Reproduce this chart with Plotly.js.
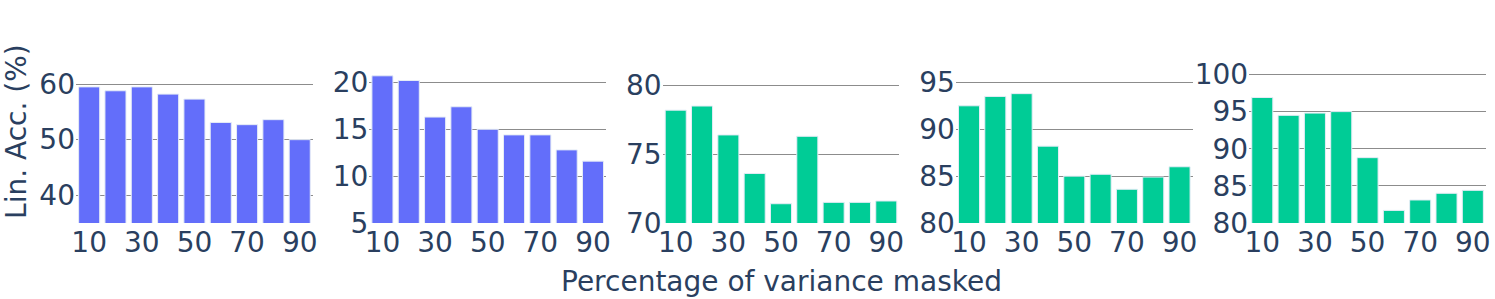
<!DOCTYPE html>
<html>
<head>
<meta charset="utf-8">
<script src="https://cdn.plot.ly/plotly-3.0.1.min.js"></script>
<style>html,body{margin:0;padding:0;background:#fff;}</style>
</head>
<body>
<div id="chart" style="width:1495px;height:299px;"></div>
<script>
// Percentage of variance masked (categories)
const maskPct = [10, 20, 30, 40, 50, 60, 70, 80, 90];
const tickVals = [10, 30, 50, 70, 90];
const tickText = ["10", "30", "50", "70", "90"];

// Linear accuracy (%) per subplot
const acc1 = [59.5, 58.8, 59.5, 58.2, 57.3, 53.1, 52.7, 53.6, 50.0];
const acc2 = [20.7, 20.2, 16.3, 17.4, 15.0, 14.4, 14.4, 12.8, 11.6];
const acc3 = [78.2, 78.5, 76.4, 73.6, 71.4, 76.3, 71.5, 71.5, 71.6];
const acc4 = [92.5, 93.5, 93.8, 88.2, 85.0, 85.2, 83.6, 84.9, 86.0];
const acc5 = [96.9, 94.5, 94.8, 95.0, 88.8, 81.7, 83.1, 84.0, 84.4];

const series = [acc1, acc2, acc3, acc4, acc5];
const colors = ["#636efa", "#636efa", "#00cc96", "#00cc96", "#00cc96"];
const yRanges = [[35, 62], [5, 21], [70, 80.9], [80, 96], [80, 100.2]];
const yDticks = [10, 5, 5, 5, 5];

const fontFam = "'DejaVu Sans'";
const fontCol = "#2a3f5f";
const fs = 28;

const n = 5;
const gap = 0.04;
const w = (1 - gap * (n - 1)) / n;

const traces = [];
const layout = {
  width: 1495, height: 299,
  margin: {l: 76, r: 9, t: 73, b: 76},
  paper_bgcolor: "#ffffff",
  plot_bgcolor: "#ffffff",
  showlegend: false,
  bargap: 0.2,
  font: {family: fontFam, color: fontCol, size: fs},
  annotations: [
    {text: "Percentage of variance masked", xref: "paper", yref: "paper",
     x: 0.5, y: 0, xanchor: "center", yanchor: "top", yshift: -40,
     showarrow: false, font: {family: fontFam, size: fs, color: fontCol}},
    {text: "Lin. Acc. (%)", xref: "paper", yref: "paper",
     x: 0, y: 0.607, xanchor: "center", yanchor: "middle", xshift: -59,
     textangle: -90, showarrow: false, font: {family: fontFam, size: fs, color: fontCol}}
  ]
};

for (let i = 0; i < n; i++) {
  const sfx = i === 0 ? "" : String(i + 1);
  traces.push({
    type: "bar",
    x: maskPct,
    y: series[i],
    xaxis: "x" + sfx,
    yaxis: "y" + sfx,
    marker: {color: colors[i], line: {color: "#E5ECF6", width: 1}}
  });
  const x0 = i * (w + gap);
  layout["xaxis" + sfx] = {
    domain: [x0, x0 + w],
    anchor: "y" + sfx,
    range: [5, 95],
    tickmode: "array", tickvals: tickVals, ticktext: tickText,
    showgrid: false, zeroline: false, showline: false, ticks: "",
    tickfont: {family: fontFam, size: fs, color: fontCol}
  };
  layout["yaxis" + sfx] = {
    anchor: "x" + sfx,
    range: yRanges[i],
    dtick: yDticks[i], tick0: 0,
    showgrid: true, gridcolor: "#8c8c8c", gridwidth: 1,
    zeroline: false, showline: false, ticks: "",
    tickfont: {family: fontFam, size: fs, color: fontCol}
  };
}

Plotly.newPlot("chart", traces, layout, {displayModeBar: false, staticPlot: true});
</script>
</body>
</html>
